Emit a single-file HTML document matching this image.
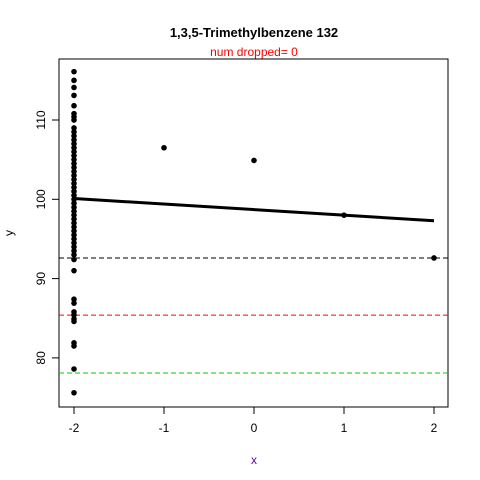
<!DOCTYPE html>
<html><head><meta charset="utf-8"><style>body{margin:0;background:#fff}svg{display:block;font-family:"Liberation Sans",sans-serif}</style></head>
<body>
<svg id="c" width="480" height="480">
<text x="254" y="37" text-anchor="middle" font-size="13" font-weight="bold">1,3,5-Trimethylbenzene 132</text>
<text x="254" y="56" text-anchor="middle" font-size="12" fill="#f00">num dropped= 0</text>
<rect x="59" y="59" width="389" height="348" fill="none" stroke="#000"/>
<text x="254" y="464" text-anchor="middle" font-size="12" fill="#60a">x</text>
<text transform="translate(13,233) rotate(-90)" text-anchor="middle" font-size="12">y</text>
<g id="g"></g>
</svg>
<script>
const xTicks=[-2,-1,0,1,2];
const yTicks=[80,90,100,110];
const xs=[-2,-2,-2,-2,-2,-2,-2,-2,-2,-2,-2,-2,-2,-2,-2,-2,-2,-2,-2,-2,-2,-2,-2,-2,-2,-2,-2,-2,-2,-2,-2,-2,-2,-2,-2,-2,-2,-2,-2,-2,-2,-2,-2,-2,-2,-1,0,1,2];
const ys=[116.1,115.0,114.1,113.1,111.8,110.8,110.4,110.0,109.0,108.5,108.0,107.5,107.0,106.5,106.0,105.5,105.0,104.5,104.0,103.5,103.0,102.5,102.0,101.5,101.0,100.5,100.0,99.5,99.0,98.5,98.0,97.5,97.0,96.5,96.0,95.5,95.0,94.5,94.0,93.5,93.0,92.4,91.0,87.4,86.9,106.5,104.9,98.0,92.6];
const ys2=[85.8,85.4,84.9,84.6,81.9,81.5,78.6,75.6];
const fitX=[-2,2], fitY=[100.1,97.3];
const hLines=[92.6,85.4,78.1], hColors=["#000","#f00","#0c0"];
const X=v=>254+v*90, Y=v=>199.3-(v-100)*7.93;
const g=document.getElementById('g'), NS="http://www.w3.org/2000/svg";
function mk(t,a){const e=document.createElementNS(NS,t);for(const k in a)e.setAttribute(k,a[k]);g.appendChild(e);return e;}
xTicks.forEach(v=>{const l=mk('line',{x1:X(v),x2:X(v),y1:407,y2:414,stroke:'#000'});


const t=mk('text',{x:X(v),y:432,'text-anchor':'middle','font-size':12});t.textContent=v;

});
yTicks.forEach(v=>{const l=mk('line',{x1:52,x2:59,y1:Y(v),y2:Y(v),stroke:'#000'});


const t=mk('text',{transform:`translate(45,${Y(v)}) rotate(-90)`,'text-anchor':'middle','font-size':12});t.textContent=v;

});
hLines.forEach((v,i)=>{const l=mk('line',{x1:59,x2:448,y1:Y(v),y2:Y(v),stroke:hColors[i],'stroke-dasharray':'5,3'});

});
xs.forEach((x,i)=>{const c=mk('circle',{cx:X(x),cy:Y(ys[i]),r:2.8});

});
ys2.forEach(v=>{const c=mk('circle',{cx:X(-2),cy:Y(v),r:2.8});

});
const f=mk('line',{x1:X(fitX[0]),y1:Y(fitY[0]),x2:X(fitX[1]),y2:Y(fitY[1]),stroke:'#000','stroke-width':3});


</script>
</body></html>
